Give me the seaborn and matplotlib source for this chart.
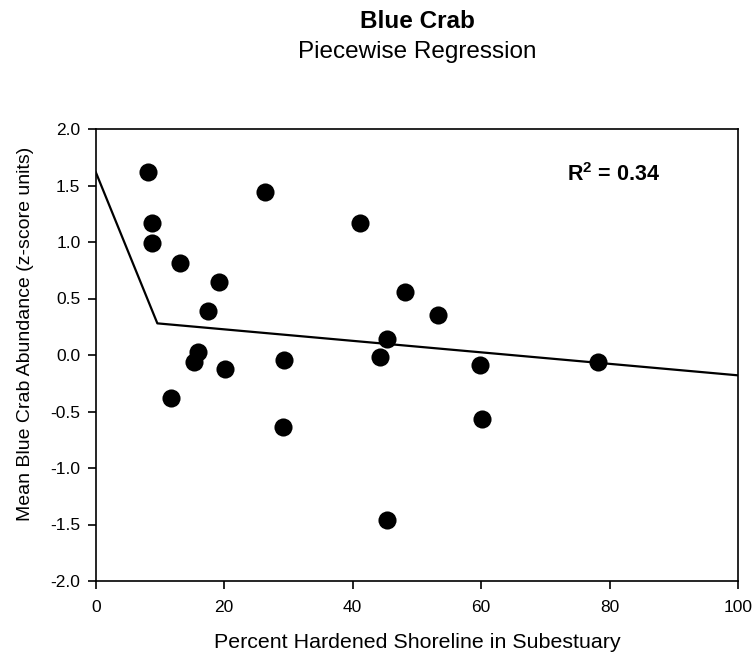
import matplotlib
matplotlib.use("Agg")
import matplotlib.pyplot as plt
import seaborn as sns
import pandas as pd

# Data
pct_hardened = [8.1, 8.8, 8.8, 13.1, 19.2, 17.5, 15.9, 15.3, 20.1, 11.7,
                26.4, 29.3, 29.2, 41.2, 44.3, 45.3, 45.3, 48.2, 53.3, 59.8,
                60.2, 78.2]
abundance = [1.62, 1.17, 0.99, 0.81, 0.65, 0.39, 0.03, -0.06, -0.12, -0.38,
             1.44, -0.04, -0.64, 1.17, -0.02, 0.14, -1.46, 0.56, 0.35, -0.09,
             -0.57, -0.06]
fit_x = [0, 9.6, 100]
fit_y = [1.62, 0.28, -0.18]
x_ticks = [0, 20, 40, 60, 80, 100]
y_ticks = [-2.0, -1.5, -1.0, -0.5, 0.0, 0.5, 1.0, 1.5, 2.0]

sns.set_theme(style="ticks")
plt.rcParams['font.family'] = ['Liberation Sans', 'DejaVu Sans']
plt.rcParams['mathtext.fontset'] = 'custom'
plt.rcParams['mathtext.rm'] = 'Liberation Sans'
plt.rcParams['mathtext.bf'] = 'Liberation Sans:bold'
plt.rcParams['text.color'] = 'black'
plt.rcParams['axes.labelcolor'] = 'black'

df = pd.DataFrame({"x": pct_hardened, "y": abundance})
fit = pd.DataFrame({"x": fit_x, "y": fit_y})

fig = plt.figure(figsize=(7.56, 6.58), dpi=100)
ax = fig.add_axes([95.7 / 756, 1 - 581 / 658, (738 - 95.7) / 756, (581 - 129) / 658])

sns.lineplot(data=fit, x="x", y="y", ax=ax, color="black", linewidth=1.6)
sns.scatterplot(data=df, x="x", y="y", ax=ax, color="black", s=170,
                edgecolor="black", linewidth=0, zorder=3)

ax.set_xlim(0, 100)
ax.set_ylim(-2, 2)
ax.set_xticks(x_ticks)
ax.set_xticklabels([str(t) for t in x_ticks])
ax.set_yticks(y_ticks)
ax.set_yticklabels([f"{t:.1f}" for t in y_ticks])
ax.tick_params(axis="both", direction="out", length=6, width=1.2,
               labelsize=12.5, colors="black", pad=5)
ax.tick_params(axis="x", pad=8)
for sp in ax.spines.values():
    sp.set_color("black")
    sp.set_linewidth(1.2)
    sp.set_visible(True)

ax.set_xlabel("Percent Hardened Shoreline in Subestuary", fontsize=15.4)
ax.set_ylabel("Mean Blue Crab Abundance (z-score units)", fontsize=14)
ax.xaxis.set_label_coords(0.5, -(633 - 581) / (581 - 129), transform=ax.transAxes)
ax.yaxis.set_label_coords(-(95.7 - 34) / (738 - 95.7), (581 - 334) / (581 - 129),
                          transform=ax.transAxes)

ax.text(73.4, 1.6, r"R$^\mathbf{2}$ = 0.34", fontsize=15.5, fontweight="bold",
        va="center", ha="left")

fig.text(417 / 756, 1 - 22 / 658, "Blue Crab", ha="center", va="center",
         fontsize=17.5, fontweight="bold")
fig.text(417 / 756, 1 - 52 / 658, "Piecewise Regression", ha="center", va="center",
         fontsize=17.5)

fig.savefig("out.png", dpi=100)
